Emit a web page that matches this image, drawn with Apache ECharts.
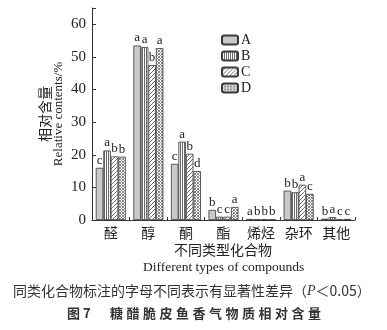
<!DOCTYPE html>
<html>
<head>
<meta charset="utf-8">
<script src="https://cdn.jsdelivr.net/npm/echarts@6/dist/echarts.min.js"></script>
<style>
  html, body { margin: 0; padding: 0; background: #fff; }
  #chart { width: 387px; height: 330px; }
</style>
</head>
<body>
<div id="chart"></div>
<script>
// Compound classes on the category axis
const categories = ['醛', '醇', '酮', '酯', '烯烃', '杂环', '其他'];
const seriesNames = ['A', 'B', 'C', 'D'];

// Relative contents (%) per sample
const valuesA = [16.0, 53.5, 17.2, 3.1, 0.3, 9.0, 0.4];
const valuesB = [21.3, 53.0, 24.0, 1.0, 0.2, 8.5, 0.9];
const valuesC = [19.5, 47.5, 20.3, 1.0, 0.2, 10.8, 0.2];
const valuesD = [19.4, 52.7, 15.0, 4.0, 0.2, 8.0, 0.3];

// Significance letters shown above each bar
const lettersA = ['c', 'a', 'c', 'b', 'a', 'b', 'b'];
const lettersB = ['a', 'a', 'a', 'c', 'b', 'b', 'a'];
const lettersC = ['b', 'b', 'b', 'c', 'b', 'a', 'c'];
const lettersD = ['b', 'a', 'd', 'a', 'b', 'c', 'c'];

const yTicks = [0, 10, 20, 30, 40, 50, 60];

const figureNo = '图 7';
const figureTitle = '糖醋脆皮鱼香气物质相对含量';

// Fill patterns for the four samples
function makePattern(size, draw) {
  const c = document.createElement('canvas');
  c.width = size; c.height = size;
  const ctx = c.getContext('2d');
  ctx.fillStyle = '#ffffff';
  ctx.fillRect(0, 0, size, size);
  draw(ctx, size);
  return { image: c, repeat: 'repeat' };
}
const fillA = '#c9c9c9';
const fillB = makePattern(2, (ctx) => {
  ctx.fillStyle = '#6a6a6a';
  ctx.fillRect(0, 0, 1, 2);
});
const fillC = makePattern(4, (ctx, s) => {
  ctx.strokeStyle = '#707070';
  ctx.lineWidth = 1;
  ctx.beginPath();
  ctx.moveTo(-1, s + 1); ctx.lineTo(s + 1, -1);
  ctx.moveTo(-1, 1); ctx.lineTo(1, -1);
  ctx.moveTo(s - 1, s + 1); ctx.lineTo(s + 1, s - 1);
  ctx.stroke();
});
const fillD = makePattern(3, (ctx) => {
  ctx.fillStyle = '#8a8a8a';
  ctx.fillRect(0, 0, 1, 1);
  ctx.fillRect(2, 0, 1, 1);
  ctx.fillRect(1, 1, 1, 1);
  ctx.fillRect(0, 2, 1, 1);
  ctx.fillRect(2, 2, 1, 1);
});

const serif = '"Liberation Serif", "DejaVu Serif", serif';
const cjk = '"Noto Sans CJK SC", sans-serif';

function barSeries(name, values, letters, fill) {
  return {
    name: name,
    type: 'bar',
    data: values,
    barWidth: 7.5,
    barGap: '0%',
    itemStyle: { color: fill, borderColor: '#3a3a3a', borderWidth: 0.8 },
    label: {
      show: true,
      position: 'top',
      distance: 1,
      color: '#222',
      fontFamily: serif,
      fontSize: 13,
      formatter: (p) => letters[p.dataIndex]
    },
    emphasis: { disabled: true }
  };
}

// Spaced-out figure caption, one glyph per element
const titleGraphics = [{
  type: 'text', left: 67, top: 307,
  style: { text: figureNo, fontFamily: cjk, fontSize: 13, fontWeight: 'bold', fill: '#333' }
}];
Array.from(figureTitle).forEach((ch, i) => {
  titleGraphics.push({
    type: 'text', left: 110 + i * 16.5, top: 307,
    style: { text: ch, fontFamily: cjk, fontSize: 13, fontWeight: 'bold', fill: '#333' }
  });
});

const chart = echarts.init(document.getElementById('chart'), null, { renderer: 'canvas' });
chart.setOption({
  animation: false,
  backgroundColor: '#ffffff',
  grid: { left: 92, right: 32, top: 8, bottom: 110 },
  legend: {
    orient: 'vertical',
    left: 216,
    top: 28,
    itemWidth: 16,
    itemHeight: 9,
    itemGap: 2,
    data: seriesNames,
    textStyle: { fontFamily: serif, fontSize: 14, color: '#222', padding: [0, 0, 0, -2] }
  },
  xAxis: {
    type: 'category',
    data: categories,
    axisLine: { lineStyle: { color: '#333', width: 1 } },
    axisTick: { show: true, inside: true, length: 3, lineStyle: { color: '#333' } },
    axisLabel: { interval: 0, margin: 6, fontFamily: cjk, fontSize: 14, color: '#222' }
  },
  yAxis: {
    type: 'value',
    min: 0,
    max: 65,
    interval: 10,
    name: '{zh|相对含量}\n{en|Relative contents/%}',
    nameLocation: 'middle',
    nameRotate: 90,
    nameGap: 27,
    nameMoveOverlap: false,
    nameTextStyle: {
      color: '#222',
      rich: {
        zh: { fontFamily: cjk, fontSize: 14, lineHeight: 14, color: '#222' },
        en: { fontFamily: serif, fontSize: 13, lineHeight: 13, color: '#222' }
      }
    },
    splitLine: { show: false },
    axisLine: { show: true, lineStyle: { color: '#333', width: 1 } },
    axisTick: { show: true, inside: true, length: 4, lineStyle: { color: '#333' } },
    axisLabel: {
      margin: 6,
      fontFamily: serif,
      fontSize: 15,
      color: '#222',
      formatter: (v) => (yTicks.indexOf(v) >= 0 ? String(v) : '')
    }
  },
  series: [
    barSeries(seriesNames[0], valuesA, lettersA, fillA),
    barSeries(seriesNames[1], valuesB, lettersB, fillB),
    barSeries(seriesNames[2], valuesC, lettersC, fillC),
    barSeries(seriesNames[3], valuesD, lettersD, fillD)
  ],
  graphic: [
    {
      type: 'text', left: 174, top: 243,
      style: { text: '不同类型化合物', fontFamily: cjk, fontSize: 14, fill: '#222' }
    },
    {
      type: 'text', left: 143, top: 260,
      style: { text: 'Different types of compounds', fontFamily: serif, fontSize: 13.5, fill: '#222' }
    },
    {
      type: 'text', left: 13, top: 284,
      style: {
        text: '{t|同类化合物标注的字母不同表示有显著性差异（}{p|P}{t|＜0.05）}',
        rich: {
          t: { fontFamily: cjk, fontSize: 14, fill: '#333' },
          p: { fontFamily: serif, fontSize: 14, fontStyle: 'italic', fill: '#333' }
        }
      }
    }
  ].concat(titleGraphics)
});
</script>
</body>
</html>
